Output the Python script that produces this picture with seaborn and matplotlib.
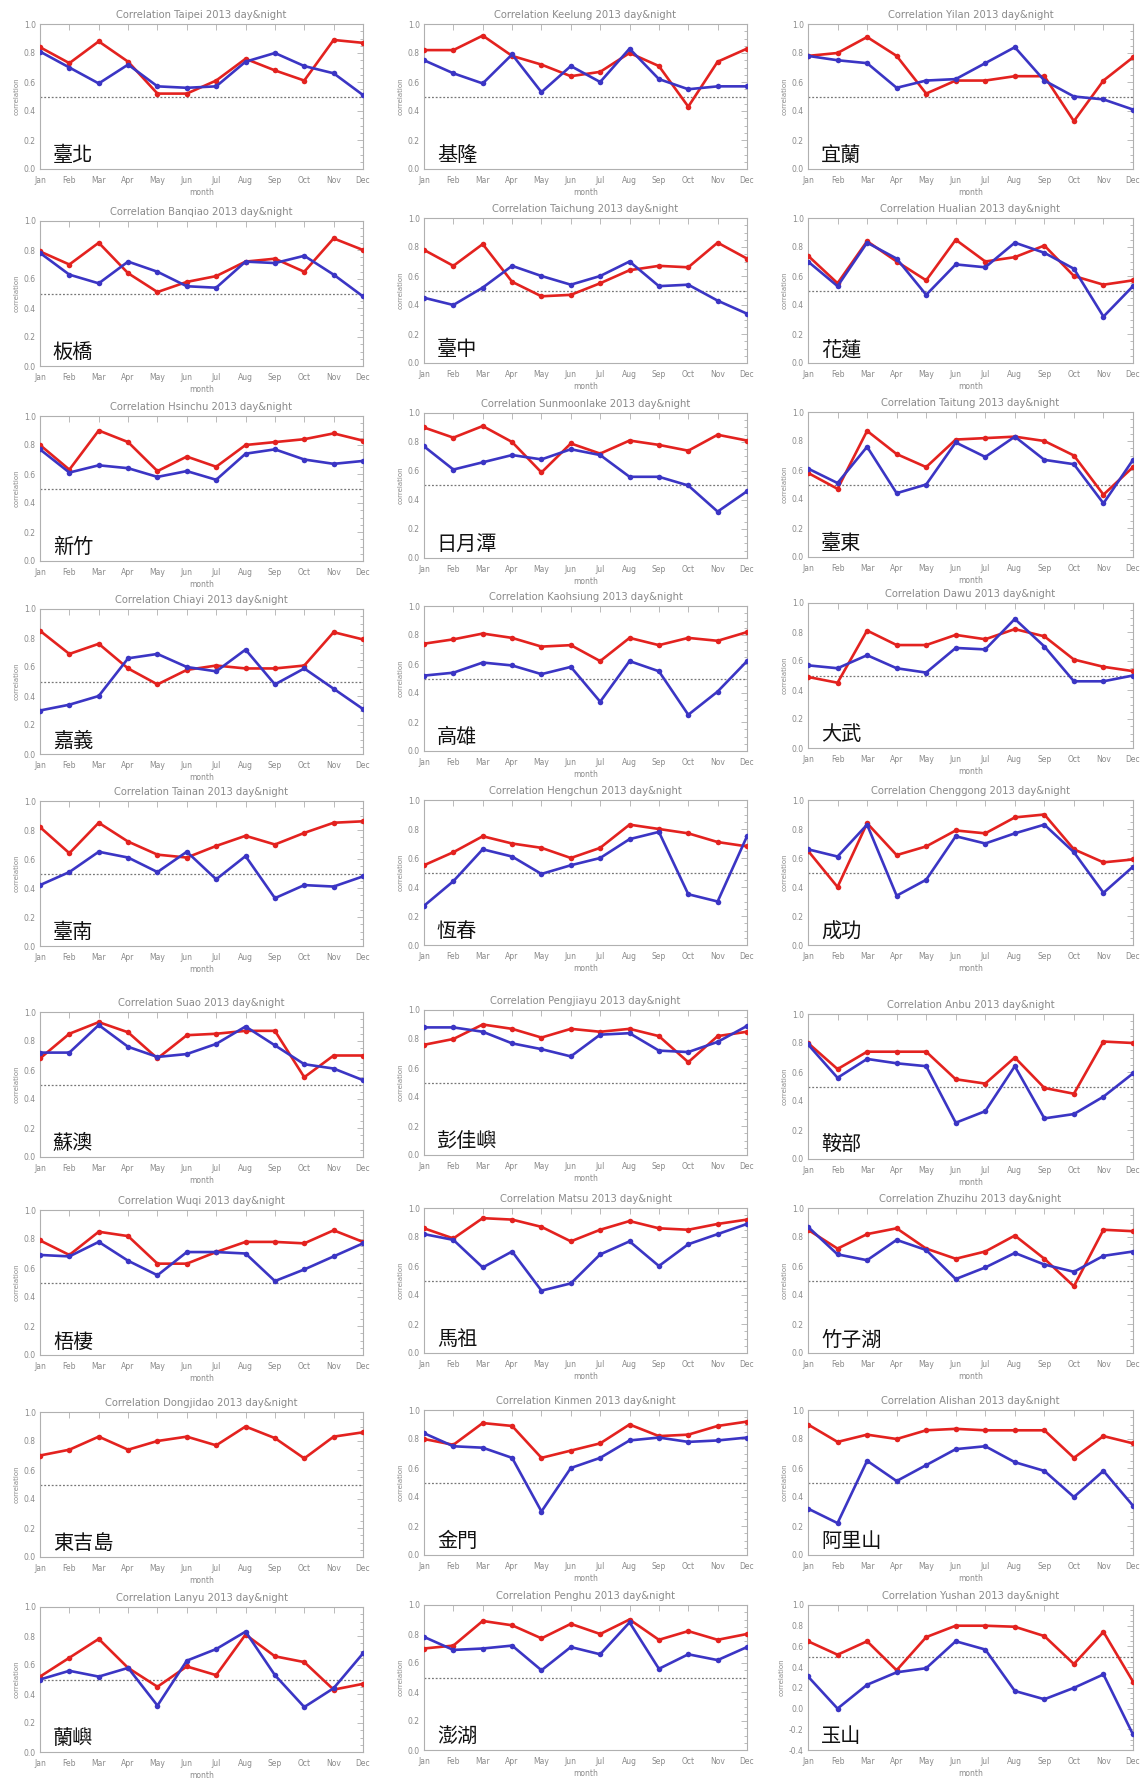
import matplotlib
matplotlib.use("Agg")
import matplotlib.pyplot as plt
from matplotlib.ticker import MultipleLocator
import numpy as np
import pandas as pd
import seaborn as sns

# ---------------------------------------------------------------- data
months = ["Jan", "Feb", "Mar", "Apr", "May", "Jun",
          "Jul", "Aug", "Sep", "Oct", "Nov", "Dec"]

station_en = ["Taipei", "Keelung", "Yilan",
              "Banqiao", "Taichung", "Hualian",
              "Hsinchu", "Sunmoonlake", "Taitung",
              "Chiayi", "Kaohsiung", "Dawu",
              "Tainan", "Hengchun", "Chenggong",
              "Suao", "Pengjiayu", "Anbu",
              "Wuqi", "Matsu", "Zhuzihu",
              "Dongjidao", "Kinmen", "Alishan",
              "Lanyu", "Penghu", "Yushan"]

station_zh = ["臺北", "基隆", "宜蘭",
              "板橋", "臺中", "花蓮",
              "新竹", "日月潭", "臺東",
              "嘉義", "高雄", "大武",
              "臺南", "恆春", "成功",
              "蘇澳", "彭佳嶼", "鞍部",
              "梧棲", "馬祖", "竹子湖",
              "東吉島", "金門", "阿里山",
              "蘭嶼", "澎湖", "玉山"]

taipei_red = [0.84, 0.73, 0.88, 0.74, 0.52, 0.52, 0.61, 0.76, 0.68, 0.61, 0.89, 0.87]
taipei_blue = [0.81, 0.70, 0.59, 0.72, 0.57, 0.56, 0.57, 0.74, 0.80, 0.71, 0.66, 0.51]
keelung_red = [0.82, 0.82, 0.92, 0.78, 0.72, 0.64, 0.67, 0.80, 0.71, 0.43, 0.74, 0.83]
keelung_blue = [0.75, 0.66, 0.59, 0.79, 0.53, 0.71, 0.60, 0.83, 0.62, 0.55, 0.57, 0.57]
yilan_red = [0.78, 0.80, 0.91, 0.78, 0.52, 0.61, 0.61, 0.64, 0.64, 0.33, 0.61, 0.77]
yilan_blue = [0.78, 0.75, 0.73, 0.56, 0.61, 0.62, 0.73, 0.84, 0.61, 0.50, 0.48, 0.41]

banqiao_red = [0.79, 0.70, 0.85, 0.64, 0.51, 0.58, 0.62, 0.72, 0.74, 0.65, 0.88, 0.80]
banqiao_blue = [0.78, 0.63, 0.57, 0.72, 0.65, 0.55, 0.54, 0.72, 0.71, 0.76, 0.63, 0.48]
taichung_red = [0.78, 0.67, 0.82, 0.56, 0.46, 0.47, 0.55, 0.64, 0.67, 0.66, 0.83, 0.72]
taichung_blue = [0.45, 0.40, 0.52, 0.67, 0.60, 0.54, 0.60, 0.70, 0.53, 0.54, 0.43, 0.34]
hualien_red = [0.74, 0.55, 0.84, 0.70, 0.57, 0.85, 0.70, 0.73, 0.81, 0.60, 0.54, 0.57]
hualien_blue = [0.70, 0.53, 0.83, 0.72, 0.47, 0.68, 0.66, 0.83, 0.76, 0.65, 0.32, 0.53]

hsinchu_red = [0.80, 0.63, 0.90, 0.82, 0.62, 0.72, 0.65, 0.80, 0.82, 0.84, 0.88, 0.83]
hsinchu_blue = [0.77, 0.61, 0.66, 0.64, 0.58, 0.62, 0.56, 0.74, 0.77, 0.70, 0.67, 0.69]
sunmoonlake_red = [0.90, 0.83, 0.91, 0.80, 0.59, 0.79, 0.72, 0.81, 0.78, 0.74, 0.85, 0.81]
sunmoonlake_blue = [0.77, 0.61, 0.66, 0.71, 0.68, 0.75, 0.71, 0.56, 0.56, 0.50, 0.32, 0.46]
taitung_red = [0.58, 0.47, 0.87, 0.71, 0.62, 0.81, 0.82, 0.83, 0.80, 0.70, 0.43, 0.62]
taitung_blue = [0.61, 0.51, 0.76, 0.44, 0.50, 0.79, 0.69, 0.83, 0.67, 0.64, 0.37, 0.67]

chiayi_red = [0.85, 0.69, 0.76, 0.59, 0.48, 0.58, 0.61, 0.59, 0.59, 0.61, 0.84, 0.79]
chiayi_blue = [0.30, 0.34, 0.40, 0.66, 0.69, 0.60, 0.57, 0.72, 0.48, 0.59, 0.45, 0.31]
kaohsiung_red = [0.74, 0.77, 0.81, 0.78, 0.72, 0.73, 0.62, 0.78, 0.73, 0.78, 0.76, 0.82]
kaohsiung_blue = [0.52, 0.54, 0.61, 0.59, 0.53, 0.58, 0.34, 0.62, 0.55, 0.25, 0.41, 0.62]
dawu_red = [0.49, 0.45, 0.81, 0.71, 0.71, 0.78, 0.75, 0.82, 0.77, 0.61, 0.56, 0.53]
dawu_blue = [0.57, 0.55, 0.64, 0.55, 0.52, 0.69, 0.68, 0.89, 0.70, 0.46, 0.46, 0.50]

tainan_red = [0.82, 0.64, 0.85, 0.72, 0.63, 0.61, 0.69, 0.76, 0.70, 0.78, 0.85, 0.86]
tainan_blue = [0.42, 0.51, 0.65, 0.61, 0.51, 0.65, 0.46, 0.62, 0.33, 0.42, 0.41, 0.48]
hengchun_red = [0.55, 0.64, 0.75, 0.70, 0.67, 0.60, 0.67, 0.83, 0.80, 0.77, 0.71, 0.68]
hengchun_blue = [0.27, 0.44, 0.66, 0.61, 0.49, 0.55, 0.60, 0.73, 0.78, 0.35, 0.30, 0.75]
chenggong_red = [0.65, 0.40, 0.84, 0.62, 0.68, 0.79, 0.77, 0.88, 0.90, 0.66, 0.57, 0.59]
chenggong_blue = [0.66, 0.61, 0.83, 0.34, 0.45, 0.75, 0.70, 0.77, 0.83, 0.64, 0.36, 0.54]

suao_red = [0.68, 0.85, 0.93, 0.86, 0.68, 0.84, 0.85, 0.87, 0.87, 0.55, 0.70, 0.70]
suao_blue = [0.72, 0.72, 0.91, 0.76, 0.69, 0.71, 0.78, 0.90, 0.77, 0.64, 0.61, 0.53]
pengjiayu_red = [0.76, 0.80, 0.90, 0.87, 0.81, 0.87, 0.85, 0.87, 0.82, 0.64, 0.82, 0.85]
pengjiayu_blue = [0.88, 0.88, 0.85, 0.77, 0.73, 0.68, 0.83, 0.84, 0.72, 0.71, 0.78, 0.89]
anbu_red = [0.80, 0.62, 0.74, 0.74, 0.74, 0.55, 0.52, 0.70, 0.49, 0.45, 0.81, 0.80]
anbu_blue = [0.79, 0.56, 0.69, 0.66, 0.64, 0.25, 0.33, 0.64, 0.28, 0.31, 0.43, 0.59]

wuqi_red = [0.79, 0.69, 0.85, 0.82, 0.63, 0.63, 0.71, 0.78, 0.78, 0.77, 0.86, 0.78]
wuqi_blue = [0.69, 0.68, 0.78, 0.65, 0.55, 0.71, 0.71, 0.70, 0.51, 0.59, 0.68, 0.77]
matsu_red = [0.86, 0.79, 0.93, 0.92, 0.87, 0.77, 0.85, 0.91, 0.86, 0.85, 0.89, 0.92]
matsu_blue = [0.82, 0.78, 0.59, 0.70, 0.43, 0.48, 0.68, 0.77, 0.60, 0.75, 0.82, 0.89]
zhuzihu_red = [0.85, 0.72, 0.82, 0.86, 0.72, 0.65, 0.70, 0.81, 0.65, 0.46, 0.85, 0.84]
zhuzihu_blue = [0.87, 0.68, 0.64, 0.78, 0.71, 0.51, 0.59, 0.69, 0.61, 0.56, 0.67, 0.70]

dongjidao_red = [0.70, 0.74, 0.83, 0.74, 0.80, 0.83, 0.77, 0.90, 0.82, 0.68, 0.83, 0.86]
dongjidao_blue = None
kinmen_red = [0.80, 0.76, 0.91, 0.89, 0.67, 0.72, 0.77, 0.90, 0.82, 0.83, 0.89, 0.92]
kinmen_blue = [0.84, 0.75, 0.74, 0.67, 0.30, 0.60, 0.67, 0.79, 0.81, 0.78, 0.79, 0.81]
alishan_red = [0.90, 0.78, 0.83, 0.80, 0.86, 0.87, 0.86, 0.86, 0.86, 0.67, 0.82, 0.77]
alishan_blue = [0.32, 0.22, 0.65, 0.51, 0.62, 0.73, 0.75, 0.64, 0.58, 0.40, 0.58, 0.34]

lanyu_red = [0.52, 0.65, 0.78, 0.58, 0.45, 0.59, 0.53, 0.81, 0.66, 0.62, 0.43, 0.47]
lanyu_blue = [0.50, 0.56, 0.52, 0.58, 0.32, 0.63, 0.71, 0.83, 0.53, 0.31, 0.44, 0.68]
penghu_red = [0.70, 0.72, 0.89, 0.86, 0.77, 0.87, 0.80, 0.90, 0.76, 0.82, 0.76, 0.80]
penghu_blue = [0.78, 0.69, 0.70, 0.72, 0.55, 0.71, 0.66, 0.88, 0.56, 0.66, 0.62, 0.71]
yushan_red = [0.65, 0.52, 0.65, 0.37, 0.69, 0.80, 0.80, 0.79, 0.70, 0.43, 0.74, 0.26]
yushan_blue = [0.31, 0.00, 0.23, 0.35, 0.39, 0.65, 0.57, 0.17, 0.09, 0.20, 0.33, -0.25]

red_series = [taipei_red, keelung_red, yilan_red,
              banqiao_red, taichung_red, hualien_red,
              hsinchu_red, sunmoonlake_red, taitung_red,
              chiayi_red, kaohsiung_red, dawu_red,
              tainan_red, hengchun_red, chenggong_red,
              suao_red, pengjiayu_red, anbu_red,
              wuqi_red, matsu_red, zhuzihu_red,
              dongjidao_red, kinmen_red, alishan_red,
              lanyu_red, penghu_red, yushan_red]
blue_series = [taipei_blue, keelung_blue, yilan_blue,
               banqiao_blue, taichung_blue, hualien_blue,
               hsinchu_blue, sunmoonlake_blue, taitung_blue,
               chiayi_blue, kaohsiung_blue, dawu_blue,
               tainan_blue, hengchun_blue, chenggong_blue,
               suao_blue, pengjiayu_blue, anbu_blue,
               wuqi_blue, matsu_blue, zhuzihu_blue,
               dongjidao_blue, kinmen_blue, alishan_blue,
               lanyu_blue, penghu_blue, yushan_blue]

threshold = 0.5

# ---------------------------------------------------------------- layout
W, H = 1147, 1778
col_left = [40, 424, 808]
col_width = [323, 323, 325]
row_top = [[24, 24, 24],
           [221, 218, 218],
           [416, 413, 412],
           [609, 606, 603],
           [801, 800, 800],
           [1012, 1010, 1014],
           [1210, 1208, 1208],
           [1412, 1410, 1410],
           [1607, 1605, 1605]]
ax_height = 145

RED = "#e3221f"
BLUE = "#3b35c4"
GRAY = "#8a8a8a"
FRAME = "#b0b0b0"

sns.set_theme(style="white")
plt.rcParams["font.family"] = ["DejaVu Sans", "Noto Sans CJK TC"]

fig = plt.figure(figsize=(W / 100, H / 100), dpi=100)
x = np.arange(len(months))

for i, (en, zh) in enumerate(zip(station_en, station_zh)):
    r, c = divmod(i, 3)
    left = col_left[c]
    top = row_top[r][c]
    ax = fig.add_axes([left / W, 1 - (top + ax_height) / H,
                       col_width[c] / W, ax_height / H])

    ax.axhline(threshold, color="#777777", lw=0.9, ls=(0, (1.5, 1.5)), zorder=1)

    df = pd.DataFrame({"month": x, "red": red_series[i]})
    sns.lineplot(data=df, x="month", y="red", ax=ax, color=RED,
                 marker="o", markersize=4, markeredgewidth=0,
                 linewidth=1.9, legend=False, zorder=3)
    if blue_series[i] is not None:
        dfb = pd.DataFrame({"month": x, "blue": blue_series[i]})
        sns.lineplot(data=dfb, x="month", y="blue", ax=ax, color=BLUE,
                     marker="o", markersize=4, markeredgewidth=0,
                     linewidth=1.9, legend=False, zorder=4)

    ax.set_xlim(0, 11)
    if en == "Yushan":
        ax.set_ylim(-0.4, 1.0)
        ax.set_yticks(np.round(np.arange(-0.4, 1.01, 0.2), 1))
    else:
        ax.set_ylim(0.0, 1.0)
        ax.set_yticks(np.round(np.arange(0.0, 1.01, 0.2), 1))
    ax.yaxis.set_minor_locator(MultipleLocator(0.05))
    ax.set_xticks(x)
    ax.set_xticklabels(months)
    ax.yaxis.set_major_formatter(plt.FuncFormatter(lambda v, p: f"{v:.1f}"))

    ax.tick_params(axis="both", which="both", direction="in",
                   top=True, right=True, colors=FRAME,
                   labelcolor=GRAY, labelsize=5.5, width=0.6)
    ax.tick_params(axis="both", which="major", length=4)
    ax.tick_params(axis="y", which="minor", length=2)
    ax.tick_params(axis="x", pad=5)
    ax.tick_params(axis="y", pad=3)
    for s in ax.spines.values():
        s.set_color(FRAME)
        s.set_linewidth(0.8)

    ax.set_xlabel("month", fontsize=5.5, color=GRAY, labelpad=2)
    ax.set_ylabel("correlation", fontsize=5, color=GRAY, labelpad=3)
    ax.set_title(f"Correlation {en} 2013 day&night", fontsize=7.2,
                 color=GRAY, pad=4)

    ax.text(0.04, 0.09, zh, transform=ax.transAxes, fontsize=14.5,
            family=["Noto Sans CJK TC", "DejaVu Sans"], fontweight="light",
            color="#111111", ha="left", va="center", zorder=5)

fig.savefig("out.png", dpi=100, facecolor="white")
